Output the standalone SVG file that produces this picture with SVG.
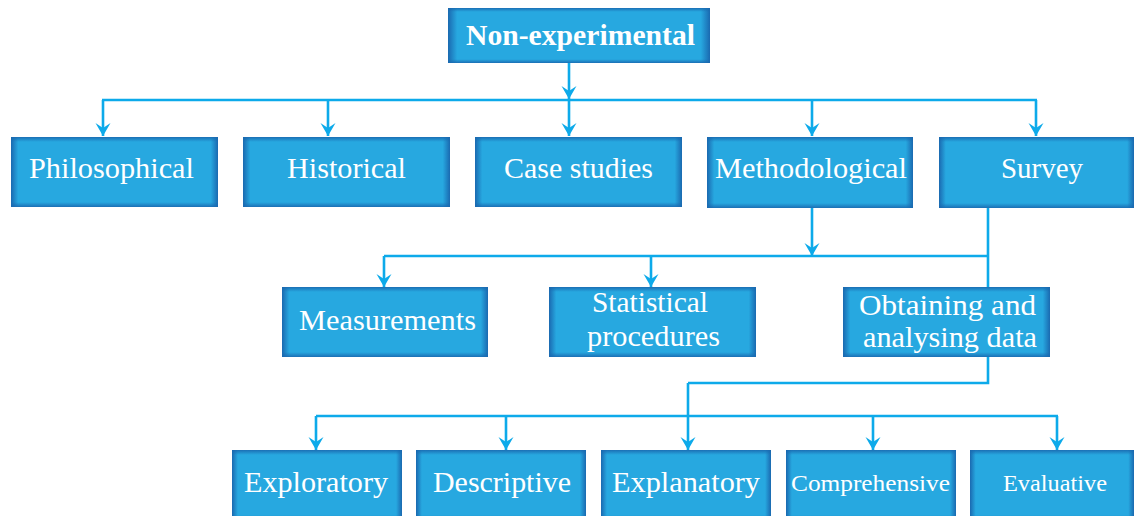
<svg xmlns="http://www.w3.org/2000/svg" width="1134" height="516" viewBox="0 0 1134 516">
<defs>
<linearGradient id="hg" x1="0" y1="0" x2="1" y2="0">
<stop offset="0" stop-color="#1a69b0" stop-opacity="1"/>
<stop offset="0.035" stop-color="#1a69b0" stop-opacity="0"/>
<stop offset="0.965" stop-color="#1a69b0" stop-opacity="0"/>
<stop offset="1" stop-color="#1a69b0" stop-opacity="1"/>
</linearGradient>
<linearGradient id="vg" x1="0" y1="0" x2="0" y2="1">
<stop offset="0" stop-color="#1a69b0" stop-opacity="0.9"/>
<stop offset="0.07" stop-color="#1a69b0" stop-opacity="0"/>
<stop offset="0.93" stop-color="#1a69b0" stop-opacity="0"/>
<stop offset="1" stop-color="#1a69b0" stop-opacity="0.9"/>
</linearGradient>
<marker id="ah" viewBox="-14 -8 15 16" refX="0" refY="0" markerWidth="15" markerHeight="16" markerUnits="userSpaceOnUse" orient="auto">
<path d="M0,0 L-13,-7.5 L-8,0 L-13,7.5 Z" fill="#0daaea"/>
</marker>
</defs>
<style>
.b{fill:#27a8e0}
.h{fill:url(#hg)}
.v{fill:url(#vg)}
.t{font-family:"Liberation Serif","Times New Roman",serif;font-size:29px;fill:#ffffff}
.s{font-size:24px}
.bold{font-weight:bold}
.c{fill:none;stroke:#0daaea;stroke-width:2.6}
.a{marker-end:url(#ah)}
</style>
<g id="connectors">
<path class="c a" d="M569,63 V99"/>
<path class="c" d="M102,100 H1037"/>
<path class="c a" d="M103,100 V136"/>
<path class="c a" d="M328,100 V136"/>
<path class="c a" d="M569,100 V136"/>
<path class="c a" d="M812,100 V136"/>
<path class="c a" d="M1036,100 V136"/>
<path class="c a" d="M812,208 V256"/>
<path class="c" d="M384,256 H988"/>
<path class="c" d="M988,208 V383 H688"/>
<path class="c a" d="M384,256 V287"/>
<path class="c a" d="M651,256 V287"/>
<path class="c a" d="M688,383 V450"/>
<path class="c" d="M316,416 H1058"/>
<path class="c a" d="M316,416 V450"/>
<path class="c a" d="M506,416 V450"/>
<path class="c a" d="M873,416 V450"/>
<path class="c a" d="M1057,416 V450"/>
</g>
<g id="n-nonexp">
<rect class="b" x="448" y="8" width="262" height="55"/><rect class="h" x="448" y="8" width="262" height="55"/><rect class="v" x="448" y="8" width="262" height="55"/>
<text class="t bold" x="466" y="45" textLength="229" lengthAdjust="spacingAndGlyphs">Non-experimental</text>
</g>
<g id="n-philosophical">
<rect class="b" x="11" y="137" width="207" height="70"/><rect class="h" x="11" y="137" width="207" height="70"/><rect class="v" x="11" y="137" width="207" height="70"/>
<text class="t" x="29" y="178" textLength="165" lengthAdjust="spacingAndGlyphs">Philosophical</text>
</g>
<g id="n-historical">
<rect class="b" x="243" y="137" width="207" height="70"/><rect class="h" x="243" y="137" width="207" height="70"/><rect class="v" x="243" y="137" width="207" height="70"/>
<text class="t" x="287" y="178" textLength="119" lengthAdjust="spacingAndGlyphs">Historical</text>
</g>
<g id="n-case">
<rect class="b" x="475" y="137" width="207" height="70"/><rect class="h" x="475" y="137" width="207" height="70"/><rect class="v" x="475" y="137" width="207" height="70"/>
<text class="t" x="504" y="178" textLength="149" lengthAdjust="spacingAndGlyphs">Case studies</text>
</g>
<g id="n-methodological">
<rect class="b" x="707" y="137" width="206" height="71"/><rect class="h" x="707" y="137" width="206" height="71"/><rect class="v" x="707" y="137" width="206" height="71"/>
<text class="t" x="715" y="178" textLength="192" lengthAdjust="spacingAndGlyphs">Methodological</text>
</g>
<g id="n-survey">
<rect class="b" x="939" y="137" width="195" height="71"/><rect class="h" x="939" y="137" width="195" height="71"/><rect class="v" x="939" y="137" width="195" height="71"/>
<text class="t" x="1001" y="178" textLength="82" lengthAdjust="spacingAndGlyphs">Survey</text>
</g>
<g id="n-measurements">
<rect class="b" x="282" y="287" width="206" height="70"/><rect class="h" x="282" y="287" width="206" height="70"/><rect class="v" x="282" y="287" width="206" height="70"/>
<text class="t" x="299" y="330" textLength="177" lengthAdjust="spacingAndGlyphs">Measurements</text>
</g>
<g id="n-statistical">
<rect class="b" x="549" y="287" width="207" height="70"/><rect class="h" x="549" y="287" width="207" height="70"/><rect class="v" x="549" y="287" width="207" height="70"/>
<text class="t" x="592" y="312" textLength="116" lengthAdjust="spacingAndGlyphs">Statistical</text>
<text class="t" x="587" y="346" textLength="133" lengthAdjust="spacingAndGlyphs">procedures</text>
</g>
<g id="n-obtaining">
<rect class="b" x="843" y="287" width="207" height="70"/><rect class="h" x="843" y="287" width="207" height="70"/><rect class="v" x="843" y="287" width="207" height="70"/>
<text class="t" x="859" y="315" textLength="177" lengthAdjust="spacingAndGlyphs">Obtaining and</text>
<text class="t" x="863" y="347" textLength="174" lengthAdjust="spacingAndGlyphs">analysing data</text>
</g>
<g id="n-exploratory">
<rect class="b" x="232" y="450" width="170" height="66"/><rect class="h" x="232" y="450" width="170" height="66"/><rect class="v" x="232" y="450" width="170" height="70"/>
<text class="t" x="244" y="492" textLength="144" lengthAdjust="spacingAndGlyphs">Exploratory</text>
</g>
<g id="n-descriptive">
<rect class="b" x="416" y="450" width="170" height="66"/><rect class="h" x="416" y="450" width="170" height="66"/><rect class="v" x="416" y="450" width="170" height="70"/>
<text class="t" x="433" y="492" textLength="138" lengthAdjust="spacingAndGlyphs">Descriptive</text>
</g>
<g id="n-explanatory">
<rect class="b" x="601" y="450" width="170" height="66"/><rect class="h" x="601" y="450" width="170" height="66"/><rect class="v" x="601" y="450" width="170" height="70"/>
<text class="t" x="612" y="492" textLength="148" lengthAdjust="spacingAndGlyphs">Explanatory</text>
</g>
<g id="n-comprehensive">
<rect class="b" x="786" y="450" width="170" height="66"/><rect class="h" x="786" y="450" width="170" height="66"/><rect class="v" x="786" y="450" width="170" height="70"/>
<text class="t s" x="791" y="491" textLength="159" lengthAdjust="spacingAndGlyphs">Comprehensive</text>
</g>
<g id="n-evaluative">
<rect class="b" x="970" y="450" width="164" height="66"/><rect class="h" x="970" y="450" width="164" height="66"/><rect class="v" x="970" y="450" width="164" height="70"/>
<text class="t s" x="1003" y="491" textLength="104" lengthAdjust="spacingAndGlyphs">Evaluative</text>
</g>
</svg>
